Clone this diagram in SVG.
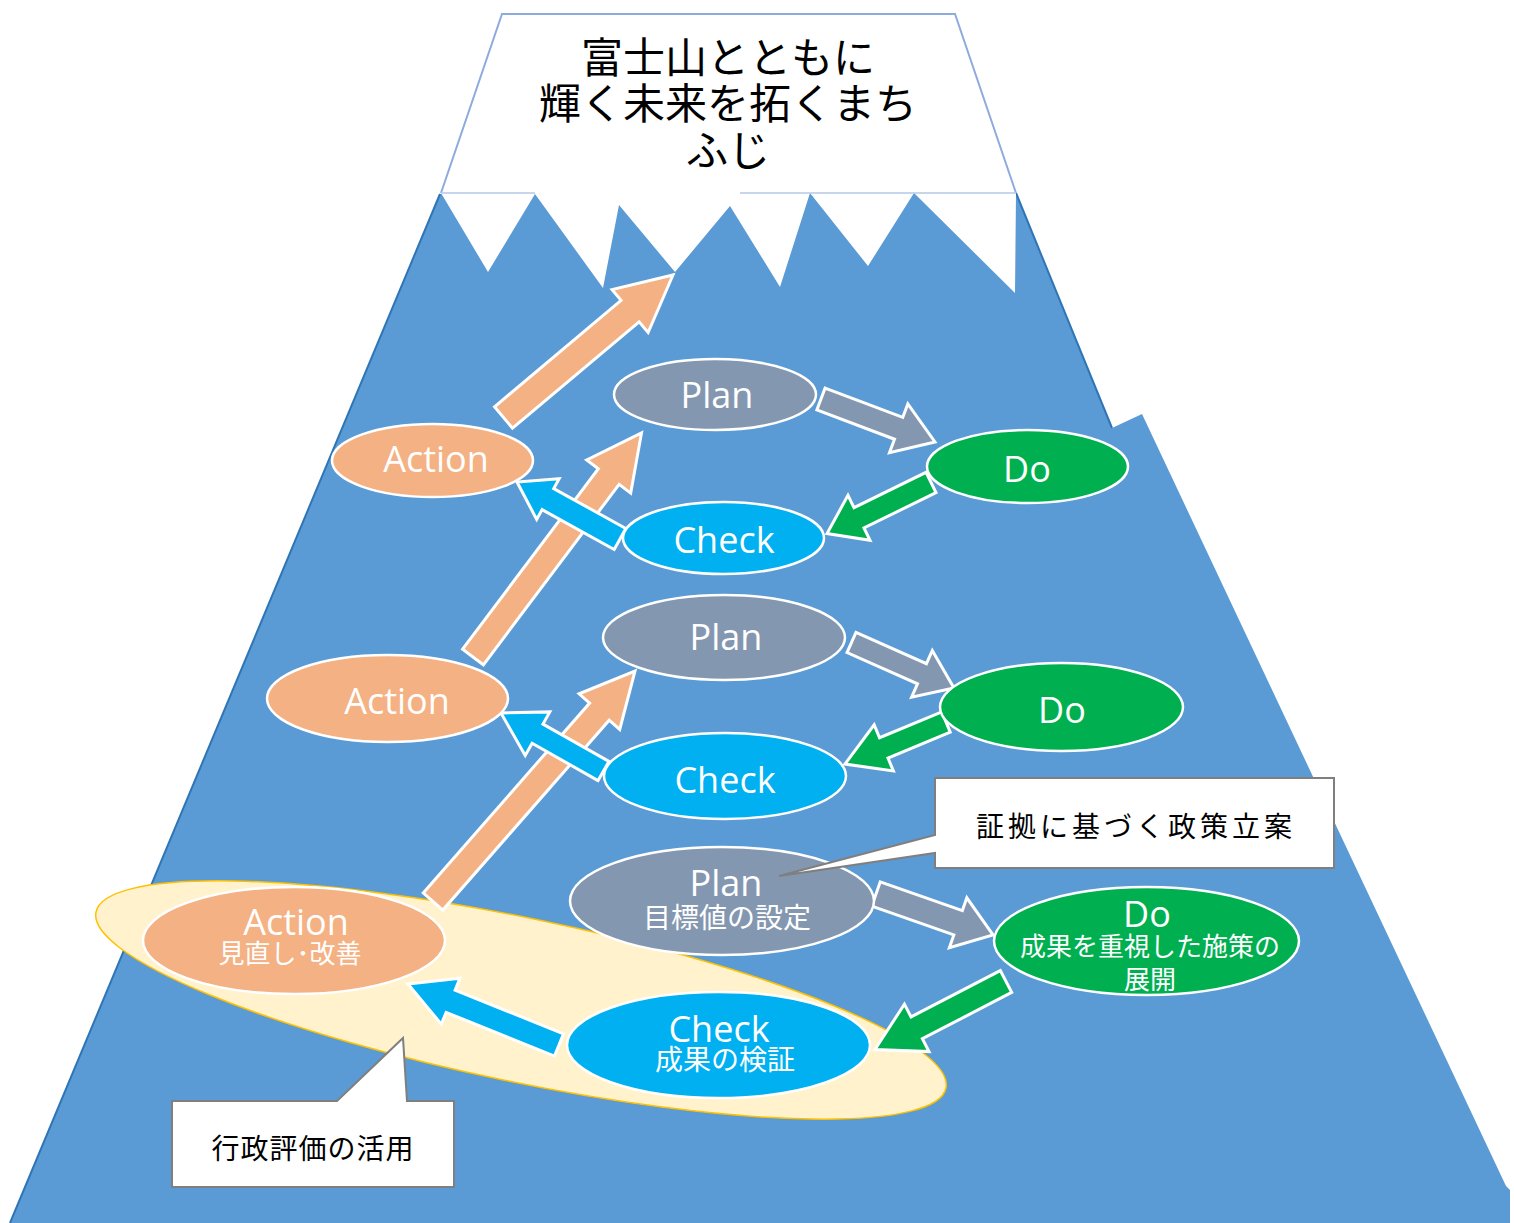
<svg xmlns="http://www.w3.org/2000/svg" width="1514" height="1223" viewBox="0 0 1514 1223">
<style>
.lat{font-family:"Open Sans","Noto Sans",sans-serif;fill:#fff;text-anchor:middle}
.jp{font-family:"Noto Sans CJK JP","Noto Sans",sans-serif;text-anchor:middle}
.w{fill:#fff}
.node{stroke:#fff;stroke-width:2.5}
.plan{fill:#8497B0}.do{fill:#00B050}.check{fill:#00B0F0}.action{fill:#F4B183}
.arr{stroke:#fff;stroke-width:3;stroke-linejoin:miter}
.call{fill:#fff;stroke:#7F7F7F;stroke-width:2}
</style>
<rect width="1514" height="1223" fill="#fff"/>
<g id="mountain">
<polygon points="440,194 1016,193 1112,428 1142,414 1506,1186 1510,1190 1510,1223 10,1223" fill="#5B9BD5"/>
<line x1="440" y1="194" x2="10" y2="1223" stroke="#2E75B6" stroke-width="2"/>
<line x1="1016" y1="193" x2="1112" y2="428" stroke="#2E75B6" stroke-width="2"/>
</g>
<g id="summit">
<polygon points="502,14 955,14 1016,193 1015,293 914,193 868,266 810,193 780,287 730,206 675,272 619,205 603,288 535,194 488,272 441,193" fill="#fff"/>
<polyline points="441,193 502,14 955,14 1016,193" fill="none" stroke="#8FAADC" stroke-width="2"/>
<line x1="441" y1="193" x2="535" y2="193" stroke="#B4C7E7" stroke-width="1.5"/>
<line x1="740" y1="193" x2="1016" y2="193" stroke="#B4C7E7" stroke-width="1.5"/>
<text class="jp" font-size="42" fill="#000"><tspan x="728" y="73">富士山とともに</tspan><tspan x="728" y="119">輝く未来を拓くまち</tspan><tspan x="728" y="166">ふじ</tspan></text>
</g>
<g id="highlight">
<ellipse cx="521" cy="1000" rx="434" ry="82" transform="rotate(11.7 521 1000)" fill="#FFF2CC" stroke="#FFC000" stroke-width="1.5"/>
</g>
<g id="connectors">
<polygon class="arr action" points="0,-14 165.4,-14 165.4,-28 221.4,0 165.4,28 165.4,14 0,14" transform="translate(503.5 417.5) rotate(-40.06)"/>
<polygon class="arr action" points="0,-13 225.8,-13 225.8,-27.5 280.3,0 225.8,27.5 225.8,13 0,13" transform="translate(473 657) rotate(-53.05)"/>
<polygon class="arr action" points="0,-13 252.5,-13 252.5,-27 306.5,0 252.5,27 252.5,13 0,13" transform="translate(433 901.5) rotate(-48.77)"/>
<polygon class="arr plan" points="0,-11.7 83,-11.7 83,-26 121.8,0 83,26 83,11.7 0,11.7" transform="translate(821 399) rotate(20.67)"/>
<polygon class="arr plan" points="0,-11 77.1,-11 77.1,-25.5 112.1,0 77.1,25.5 77.1,11 0,11" transform="translate(851.5 642.5) rotate(23.94)"/>
<polygon class="arr plan" points="0,-12.9 87,-12.9 87,-26.4 124,0 87,26.4 87,12.9 0,12.9" transform="translate(876 894) rotate(19.3)"/>
<polygon class="arr do" points="0,-11.3 80.2,-11.3 80.2,-25 115.8,0 80.2,25 80.2,11.3 0,11.3" transform="translate(931 482.5) rotate(153.88)"/>
<polygon class="arr do" points="0,-11 67.4,-11 67.4,-25 109.4,0 67.4,25 67.4,11 0,11" transform="translate(946 722) rotate(157.4)"/>
<polygon class="arr do" points="0,-12.3 100.6,-12.3 100.6,-26.7 147.6,0 100.6,26.7 100.6,12.3 0,12.3" transform="translate(1006 981.5) rotate(152.57)"/>
<polygon class="arr check" points="0,-12 82.4,-12 82.4,-23.2 117.7,0 82.4,23.2 82.4,12 0,12" transform="translate(620 539) rotate(-151.04)"/>
<polygon class="arr check" points="0,-11 75.8,-11 75.8,-25 117.8,0 75.8,25 75.8,11 0,11" transform="translate(603.5 771) rotate(-150.5)"/>
<polygon class="arr check" points="0,-12 116.9,-12 116.9,-24.8 162.9,0 116.9,24.8 116.9,12 0,12" transform="translate(559 1045) rotate(-158)"/>
</g>
<g id="plan1"><ellipse class="node plan" cx="715" cy="394.5" rx="101" ry="35.5"/><text class="lat" x="717" y="408" font-size="36">Plan</text></g>
<g id="do1"><ellipse class="node do" cx="1027.5" cy="466.5" rx="100.5" ry="36.5"/><text class="lat" x="1027" y="482" font-size="36">Do</text></g>
<g id="check1"><ellipse class="node check" cx="723.5" cy="538" rx="100.5" ry="36"/><text class="lat" x="724" y="553" font-size="36">Check</text></g>
<g id="action1"><ellipse class="node action" cx="432.5" cy="460.5" rx="100.5" ry="36.5"/><text class="lat" x="436" y="472" font-size="36">Action</text></g>
<g id="plan2"><ellipse class="node plan" cx="724" cy="637.5" rx="121" ry="42.5"/><text class="lat" x="726" y="650" font-size="36">Plan</text></g>
<g id="do2"><ellipse class="node do" cx="1061.5" cy="707" rx="121.5" ry="44"/><text class="lat" x="1062" y="723" font-size="36">Do</text></g>
<g id="check2"><ellipse class="node check" cx="725" cy="776" rx="121" ry="43"/><text class="lat" x="725" y="793" font-size="36">Check</text></g>
<g id="action2"><ellipse class="node action" cx="387.5" cy="698.5" rx="120.5" ry="43.5"/><text class="lat" x="397" y="714" font-size="36">Action</text></g>
<g id="plan3"><ellipse class="node plan" cx="722" cy="901" rx="152" ry="54"/><text class="lat" x="726" y="896" font-size="36">Plan</text><text class="jp" x="727" y="928" font-size="28" fill="#fff">目標値の設定</text></g>
<g id="do3"><ellipse class="node do" cx="1146.5" cy="941" rx="152.5" ry="54"/><text class="lat" x="1147" y="927" font-size="36">Do</text><text class="jp" font-size="26" fill="#fff"><tspan x="1150" y="956">成果を重視した施策の</tspan><tspan x="1150" y="989">展開</tspan></text></g>
<g id="check3"><ellipse class="node check" cx="718.5" cy="1045" rx="151.5" ry="53"/><text class="lat" x="719" y="1042" font-size="36">Check</text><text class="jp" x="725" y="1070" font-size="28" fill="#fff">成果の検証</text></g>
<g id="action3"><ellipse class="node action" cx="294" cy="940.5" rx="151" ry="53.5"/><text class="lat" x="296" y="935" font-size="36">Action</text><text class="jp" x="290" y="963" font-size="26" fill="#fff">見直し･改善</text></g>
<g id="callout-plan">
<path class="call" d="M935,778 H1334 V868 H935 V853 L779,876 L935,835 Z"/>
<text class="jp" x="1136" y="837" font-size="28" letter-spacing="4" fill="#000">証拠に基づく政策立案</text>
</g>
<g id="callout-action">
<path class="call" d="M172,1101 H337 L403,1038 L407,1101 H454 V1187 H172 Z"/>
<text class="jp" x="313" y="1159" font-size="28" letter-spacing="1" fill="#000">行政評価の活用</text>
</g>
</svg>
